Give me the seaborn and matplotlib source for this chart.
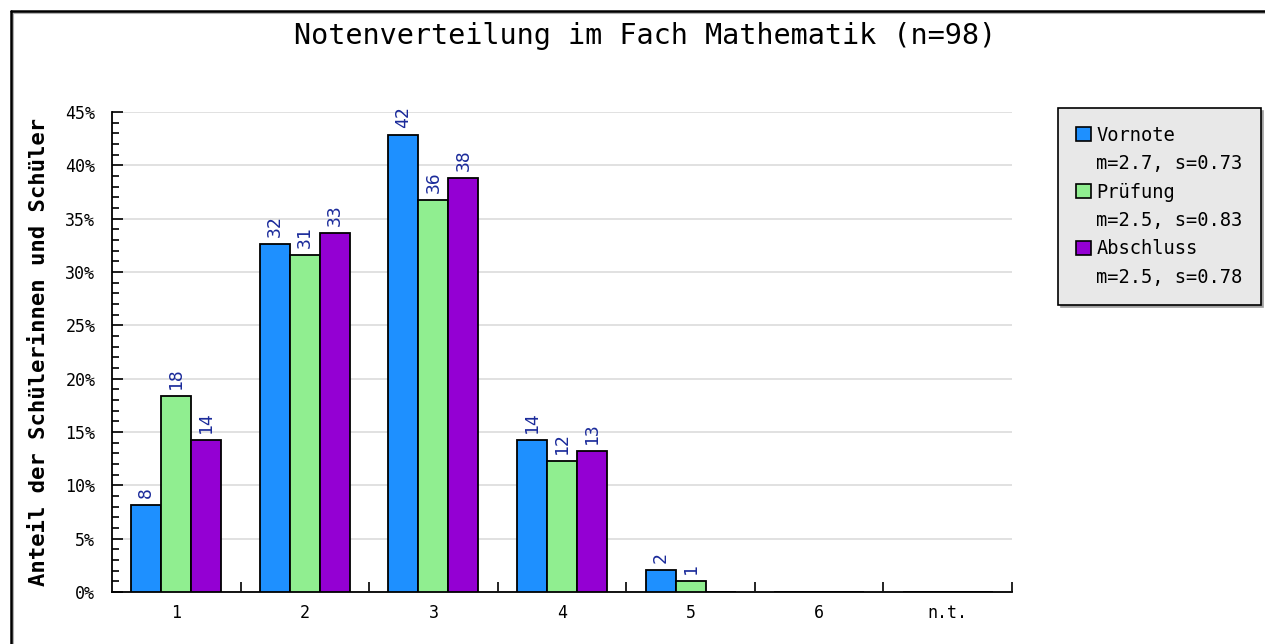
import matplotlib
matplotlib.use("Agg")
import matplotlib.pyplot as plt
from matplotlib.lines import Line2D
from matplotlib.patches import Rectangle
from matplotlib.ticker import MultipleLocator, FuncFormatter, FixedLocator
import seaborn as sns
import pandas as pd

# ---- data ----
categories = ["1", "2", "3", "4", "5", "6", "n.t."]
series = ["Vornote", "Prüfung", "Abschluss"]
vornote_counts = [8, 32, 42, 14, 2, 0, 0]
pruefung_counts = [18, 31, 36, 12, 1, 0, 0]
abschluss_counts = [14, 33, 38, 13, 0, 0, 0]
n_total = 98
stats_labels = ["m=2.7, s=0.73", "m=2.5, s=0.83", "m=2.5, s=0.78"]
title = "Notenverteilung im Fach Mathematik (n=98)"
ylabel = "Anteil der Schülerinnen und Schüler"
colors = ["#1E90FF", "#90EE90", "#9400D3"]

counts_by_series = [vornote_counts, pruefung_counts, abschluss_counts]
rows = []
for s, cnts in zip(series, counts_by_series):
    for c, v in zip(categories, cnts):
        rows.append({"Note": c, "Typ": s, "Anzahl": v, "Prozent": v / n_total * 100})
df = pd.DataFrame(rows)

sns.set_style("white")
plt.rcParams["font.family"] = ["DejaVu Sans Mono", "DejaVu Sans"]
plt.rcParams["text.color"] = "black"
plt.rcParams["axes.labelcolor"] = "black"
plt.rcParams["xtick.color"] = "black"
plt.rcParams["ytick.color"] = "black"

W, H = 1265, 644
fig = plt.figure(figsize=(W / 100, H / 100), dpi=100)
ax = fig.add_axes([112 / W, 1 - 592 / H, 900 / W, 480 / H])

sns.barplot(data=df, x="Note", y="Prozent", hue="Typ", order=categories,
            hue_order=series, palette=colors, saturation=1, edgecolor="black",
            linewidth=1.3, width=0.7, errorbar=None, legend=False, ax=ax, zorder=3)

# value labels (counts)
for cont, cnts in zip(ax.containers, counts_by_series):
    labels = [str(v) if v > 0 else "" for v in cnts]
    ax.bar_label(cont, labels=labels, rotation=90, padding=5, color="#1a2a9a",
                 fontsize=13)

ax.set_xlim(-0.5, len(categories) - 0.5)
ax.set_ylim(0, 45)

# y axis
ax.yaxis.set_major_locator(MultipleLocator(5))
ax.yaxis.set_minor_locator(MultipleLocator(1))
ax.yaxis.set_major_formatter(FuncFormatter(lambda v, p: f"{v:.0f}%"))
ax.tick_params(axis="y", which="major", direction="in", length=8, width=1.2,
               labelsize=12, pad=12, left=True)
ax.tick_params(axis="y", which="minor", direction="in", length=5, width=1.2, left=True)
ax.grid(axis="y", which="major", color="#dcdcdc", linewidth=1.2, zorder=0)
ax.set_axisbelow(True)

# x axis: labels at centers, ticks at boundaries
ax.xaxis.set_minor_locator(FixedLocator([i + 0.5 for i in range(len(categories))]))
ax.tick_params(axis="x", which="major", length=0, labelsize=12, pad=9)
ax.tick_params(axis="x", which="minor", direction="in", length=7, width=1.2, bottom=True)
ax.set_xlabel("")

ax.set_ylabel(ylabel, fontsize=16, fontweight="bold", labelpad=12)

for side in ["top", "right"]:
    ax.spines[side].set_visible(False)
for side in ["left", "bottom"]:
    ax.spines[side].set_color("black")
    ax.spines[side].set_linewidth(1.3)

fig.text(645 / W, 1 - 36 / H, title, ha="center", va="center", fontsize=20.5)

# legend with stats lines
handles, labels = [], []
for s, col, st in zip(series, colors, stats_labels):
    handles.append(Rectangle((0, 0), 1, 1, facecolor=col, edgecolor="black", linewidth=1.2))
    labels.append(s)
    handles.append(Rectangle((0, 0), 1, 1, facecolor="none", edgecolor="none"))
    labels.append(st)
leg = fig.legend(handles, labels, loc="upper left",
                 bbox_to_anchor=(1058 / W, 1 - 108 / H), fontsize=13.5,
                 frameon=True, fancybox=False, shadow={"color": "#a0a0a0", "alpha": 1},
                 handlelength=0.8, handleheight=0.8, handletextpad=0.3,
                 labelspacing=0.5, borderpad=0.95, borderaxespad=0)
leg.get_frame().set_facecolor("#e8e8e8")
leg.get_frame().set_edgecolor("black")
leg.get_frame().set_linewidth(1.2)

# figure border (top and left) with inner shadow
x0, y0 = 11 / W, 1 - 11 / H
fig.add_artist(Line2D([x0 + 2 / W, 1], [y0 - 2 / H, y0 - 2 / H], transform=fig.transFigure,
                      color="#b0b0b0", linewidth=1.5))
fig.add_artist(Line2D([x0 + 2 / W, x0 + 2 / W], [0, y0 - 2 / H], transform=fig.transFigure,
                      color="#b0b0b0", linewidth=1.5))
fig.add_artist(Line2D([x0, 1], [y0, y0], transform=fig.transFigure, color="black", linewidth=1.8))
fig.add_artist(Line2D([x0, x0], [0, y0], transform=fig.transFigure, color="black", linewidth=1.8))

fig.savefig("out.png", dpi=100)
